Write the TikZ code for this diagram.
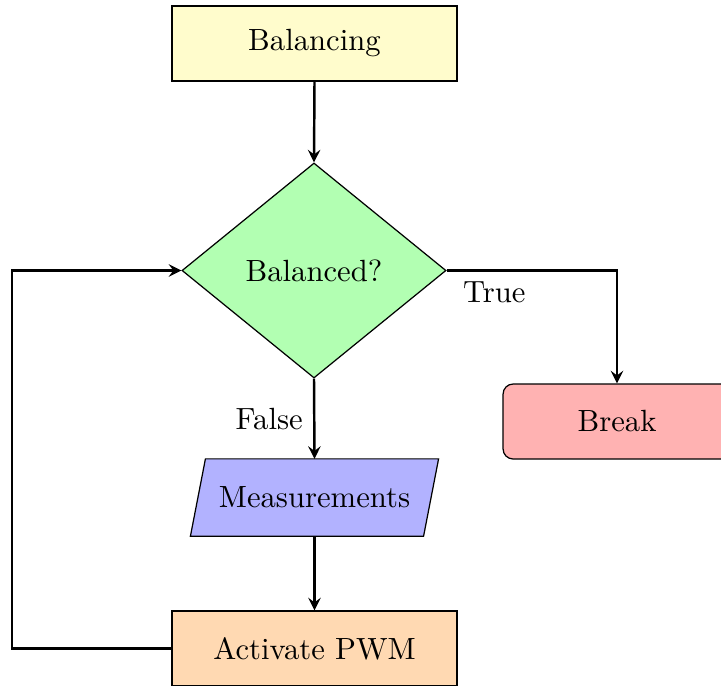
\documentclass[tikz,border=0pt]{standalone}
\usetikzlibrary{shapes.geometric,arrows}
\begin{document}
\begin{tikzpicture}[x=0.326pt,y=-0.326pt,
  base/.style={draw=black,line width=0.4pt,inner sep=0pt,align=center},
  procbox/.style={base,rectangle,minimum width=92.9pt,minimum height=24.45pt},
  decbox/.style={base,diamond,minimum width=86.1pt,minimum height=70.1pt,shape aspect=1.23},
  iobox/.style={rectangle,inner sep=0pt,minimum width=80.5pt,minimum height=24.8pt},
  endbox/.style={base,rectangle,rounded corners=3.3pt,minimum width=74.3pt,minimum height=24.45pt},
  conn/.style={->,>=stealth,thick}]
\useasboundingbox (0,0) rectangle (721,685);
\clip (0,0) rectangle (721,685);
\node[procbox,fill=yellow!20] (bal) at (314.5,43.5) {Balancing};
\node[decbox,fill=green!30] (dec) at (314,270.5) {Balanced?};
\node[iobox] (meas) at (314.5,497.5) {};
\filldraw[fill=blue!30,draw=black,line width=0.4pt]
  (meas.south west) -- ([shift={(-15,0)}]meas.south east) -- (meas.north east)
  -- ([shift={(15,0)}]meas.north west) -- cycle;
\node at (meas.center) {Measurements};
\node[procbox,fill=orange!30] (pwm) at (314.5,648.5) {Activate PWM};
\node[endbox,fill=red!30] (brk) at (617,421.5) {Break};
\coordinate (lb) at (12,0);
\draw[conn] (bal.south) -- (dec.north);
\draw[conn] (dec.east) -- node[below,pos=0.28]{True} (dec.east -| brk.north) -- (brk.north);
\draw[conn] (dec.south) -- node[left]{False} (meas.north);
\draw[conn] (meas.south) -- (pwm.north);
\draw[conn] (pwm.west) -- (pwm.west -| lb) |- (dec.west);
\end{tikzpicture}
\end{document}
